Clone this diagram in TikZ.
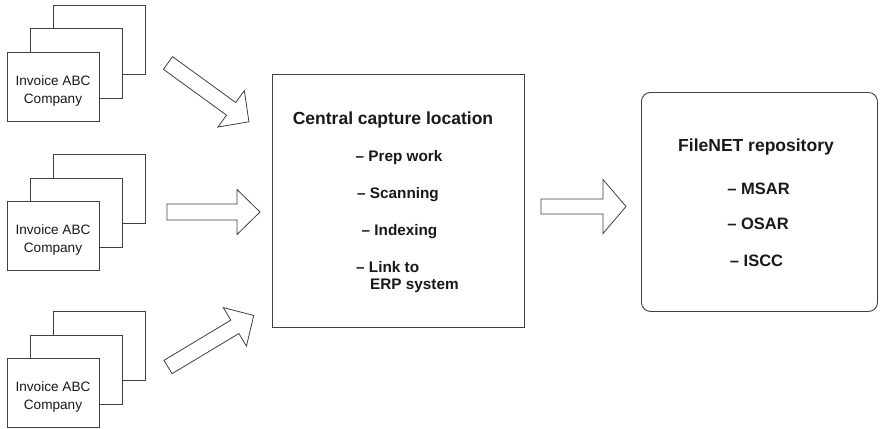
\documentclass[tikz,border=0pt]{standalone}
\usepackage{fontspec}
\setmainfont{Liberation Sans}
\newcommand{\blockarrow}[7]{%
  \begin{scope}[shift={(#1,#2)},rotate=#3]
    \draw[barrow] (0,-#6) -- ({#4-#5},-#6) -- ({#4-#5},-#7) -- (#4,0) -- ({#4-#5},#7) -- ({#4-#5},#6) -- (0,#6) -- cycle;
  \end{scope}}
\begin{document}
\begin{tikzpicture}[x=1pt,y=-1pt,
  page/.style={draw=black!75, line width=0.9pt, fill=white, inner sep=0pt,
    minimum width=92pt, minimum height=69pt, anchor=north west},
  barrow/.style={draw=black!75, line width=0.8pt, fill=white, line join=miter},
  bigbox/.style={draw=black!75, line width=0.9pt, fill=white, inner sep=0pt, anchor=north west},
  invtext/.style={anchor=base, inner sep=0pt, text=black!90, font=\fontsize{13.6}{16}\selectfont},
  ttl/.style={anchor=base, inner sep=0pt, text=black!90, font=\bfseries\fontsize{17.5}{20}\selectfont},
  itm/.style={anchor=base, inner sep=0pt, text=black!90, font=\bfseries\fontsize{15.3}{17}\selectfont},
  itmb/.style={anchor=base, inner sep=0pt, text=black!90, font=\bfseries\fontsize{16.5}{19}\selectfont}]
\useasboundingbox (0,0) rectangle (882,428);

% invoice stacks
\foreach \t/\n in {5/a,154/b,311/c}{
  \node[page] (\n3) at (53,\t) {};
  \node[page] (\n2) at (30,\t+23.5) {};
  \node[page] (\n1) at (7,\t+47) {};
  \node[invtext] (\n t1) at (53,\t+80) {Invoice ABC};
  \node[invtext] (\n t2) at (53,\t+98) {Company};
}

% central box
\node[bigbox, minimum width=252pt, minimum height=253pt] (central) at (272,74) {};
\node[ttl] (ct) at (393,124) {Central capture location};
\node[itm] (c1) at (399,161.5) {– Prep work};
\node[itm] (c2) at (398,198.5) {– Scanning};
\node[itm] (c3) at (399.5,235.5) {– Indexing};
\node[itm, anchor=base west] (c4) at (356,272.5) {– Link to};
\node[itm, anchor=base west] (c5) at (370,289.5) {ERP system};

% FileNET box
\node[bigbox, rounded corners=9pt, minimum width=236pt, minimum height=219pt] (filenet) at (641,92) {};
\node[ttl] (ft) at (756,151) {FileNET repository};
\node[itmb] (f1) at (758.5,194) {– MSAR};
\node[itmb] (f2) at (758,229) {– OSAR};
\node[itmb] (f3) at (756.5,266) {– ISCC};

% block arrows
\blockarrow{168}{63}{-36}{100}{22}{7.8}{22.5}
\blockarrow{167}{212}{0}{93}{23}{8}{22.5}
\blockarrow{168}{367}{31}{100}{22}{7.8}{22.5}
\blockarrow{541}{206.5}{0}{85}{23}{7.5}{27}
\end{tikzpicture}
\end{document}
